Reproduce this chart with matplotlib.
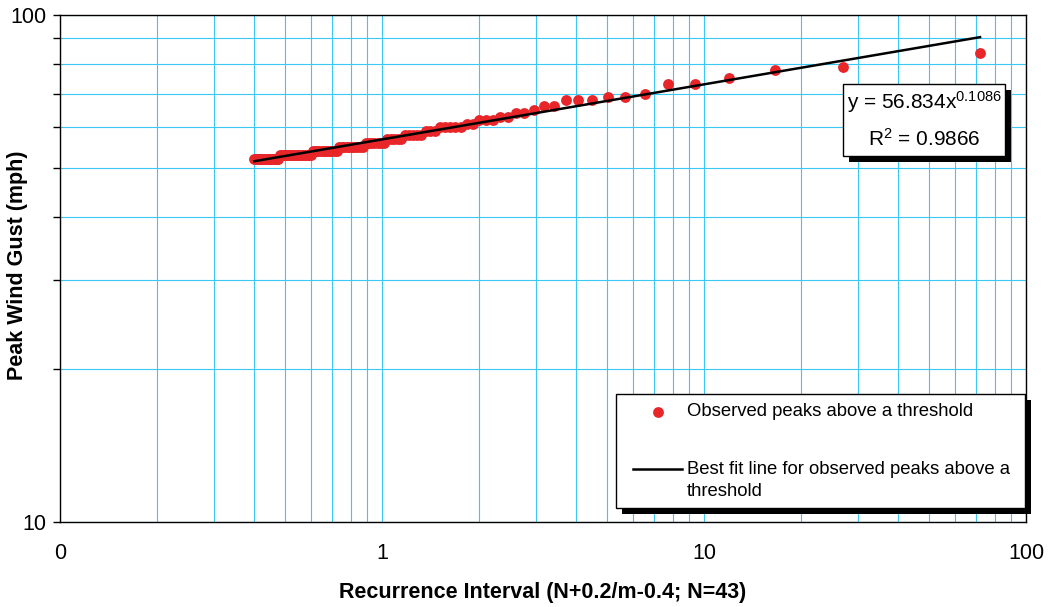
import numpy as np
import matplotlib
matplotlib.use('Agg')
import matplotlib.pyplot as plt
from matplotlib.patches import Rectangle
from matplotlib.lines import Line2D
from matplotlib.ticker import FixedLocator, NullFormatter

plt.rcParams['font.family'] = ['Liberation Sans', 'DejaVu Sans']
plt.rcParams['mathtext.fontset'] = 'custom'
plt.rcParams['mathtext.rm'] = 'Liberation Sans'
plt.rcParams['mathtext.it'] = 'Liberation Sans'

# recurrence interval of each ranked peak (rank 1 = largest)
interval = [72.0, 27.0, 16.615, 12.0, 9.391, 7.714, 6.545, 5.684, 5.023, 4.5,
            4.075, 3.724, 3.429, 3.176, 2.959, 2.769, 2.602, 2.455, 2.323, 2.204,
            2.097, 2.0, 1.912, 1.831, 1.756, 1.688, 1.624, 1.565, 1.510, 1.459,
            1.412, 1.367, 1.325, 1.286, 1.249, 1.213, 1.180, 1.149, 1.119, 1.091,
            1.064, 1.038, 1.014, 0.991, 0.969, 0.947, 0.927, 0.908, 0.889, 0.871,
            0.854, 0.837, 0.821, 0.806, 0.791, 0.777, 0.763, 0.750, 0.737, 0.725,
            0.713, 0.701, 0.690, 0.679, 0.669, 0.659, 0.649, 0.639, 0.630, 0.621,
            0.612, 0.603, 0.595, 0.587, 0.579, 0.571, 0.564, 0.557, 0.550, 0.543,
            0.536, 0.529, 0.523, 0.517, 0.511, 0.505, 0.499, 0.493, 0.488, 0.482,
            0.477, 0.472, 0.467, 0.462, 0.457, 0.452, 0.447, 0.443, 0.438, 0.434,
            0.429, 0.425, 0.421, 0.417, 0.413, 0.409, 0.405, 0.401]

# peak wind gust (mph) for each rank
gust = [84, 79, 78, 75, 73, 73, 70, 69, 69, 68,
        68, 68, 66, 66, 65, 64, 64, 63, 63, 62,
        62, 62, 61, 61, 60, 60, 60, 60, 60, 59,
        59, 59, 58, 58, 58, 58, 58, 57, 57, 57,
        57, 57, 56, 56, 56, 56, 56, 56, 56, 55,
        55, 55, 55, 55, 55, 55, 55, 55, 55, 54,
        54, 54, 54, 54, 54, 54, 54, 54, 54, 54,
        54, 53, 53, 53, 53, 53, 53, 53, 53, 53,
        53, 53, 53, 53, 53, 53, 53, 53, 53, 53,
        52, 52, 52, 52, 52, 52, 52, 52, 52, 52,
        52, 52, 52, 52, 52, 52, 52, 52]

fit_a = 56.834
fit_b = 0.1086
r2 = 0.9866

xtick_vals = [0.1, 1, 10, 100]
xtick_labels = ['0', '1', '10', '100']

W, H = 1049, 607
fig = plt.figure(figsize=(W / 100, H / 100), dpi=100)
ax = fig.add_axes([60 / W, 1 - 522 / H, (1026 - 60) / W, (522 - 15) / H])
ax.set_xscale('log')
ax.set_yscale('log')
ax.set_xlim(0.1, 100)
ax.set_ylim(10, 100)

grid_c = '#3CC8F4'
ax.grid(True, which='both', color=grid_c, linewidth=0.8)
ax.set_axisbelow(True)

ax.plot(interval, gust, 'o', color='#E8262A', markersize=7.8, markeredgewidth=0, zorder=3)
xf = np.array([min(interval), max(interval)])
ax.plot(xf, fit_a * xf ** fit_b, color='black', linewidth=1.8, zorder=4)

ax.xaxis.set_major_locator(FixedLocator(xtick_vals))
ax.set_xticklabels(xtick_labels)
ax.xaxis.set_minor_formatter(NullFormatter())
ax.tick_params(axis='x', which='both', length=0, pad=15, labelsize=15.5)
ax.yaxis.set_major_locator(FixedLocator([10, 100]))
ax.set_yticklabels(['10', '100'])
ax.yaxis.set_minor_locator(FixedLocator([20, 30, 40, 50, 60, 70, 80, 90]))
ax.yaxis.set_minor_formatter(NullFormatter())
ax.tick_params(axis='y', which='both', direction='out', length=5, width=1, pad=5, labelsize=15.5)
for s in ax.spines.values():
    s.set_linewidth(1.0)

ax.set_xlabel('Recurrence Interval (N+0.2/m-0.4; N=43)', fontsize=15.5, fontweight='bold', labelpad=13)
fig.text(18 / W, 1 - 265 / H, 'Peak Wind Gust (mph)', fontsize=15.5, fontweight='bold',
         rotation=90, ha='center', va='center')


def fx(px):
    return px / W


def fy(py):
    return 1 - py / H


def box(x0, y0, x1, y1, sh=6):
    fig.add_artist(Rectangle((fx(x0 + sh), fy(y1 + sh)), fx(x1 - x0), (y1 - y0) / H,
                             facecolor='black', edgecolor='none', zorder=5))
    fig.add_artist(Rectangle((fx(x0), fy(y1)), fx(x1 - x0), (y1 - y0) / H,
                             facecolor='white', edgecolor='black', linewidth=1.0, zorder=6))


# trendline equation box
box(843, 84, 1005, 156)
fig.text(fx(924), fy(102), 'y = %.3fx$^{%.4f}$' % (fit_a, fit_b), fontsize=15,
         ha='center', va='center', zorder=7)
fig.text(fx(924), fy(139), 'R$^{2}$ = %.4f' % r2, fontsize=15,
         ha='center', va='center', zorder=7)

# legend
box(616, 394, 1025, 508)
fig.add_artist(Line2D([fx(658)], [fy(412)], marker='o', color='#E8262A', markersize=7.8,
                      markeredgewidth=0, zorder=7))
fig.add_artist(Line2D([fx(633), fx(682)], [fy(469), fy(469)], color='black', linewidth=1.8, zorder=7))
fig.text(fx(687), fy(412), 'Observed peaks above a threshold', fontsize=13.3, va='center', zorder=7)
fig.text(fx(687), fy(469), 'Best fit line for observed peaks above a', fontsize=13.3, va='center', zorder=7)
fig.text(fx(687), fy(491), 'threshold', fontsize=13.3, va='center', zorder=7)

fig.savefig('out.png', dpi=100)
